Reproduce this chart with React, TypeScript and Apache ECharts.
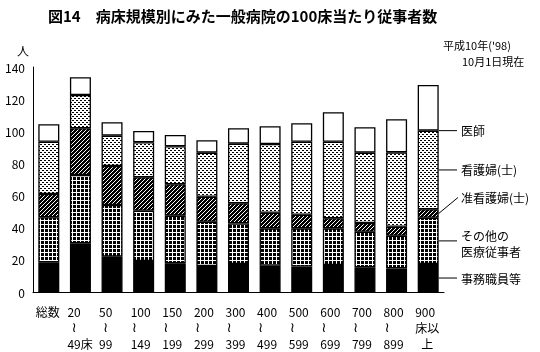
import React, { useEffect, useRef } from "react";
import * as echarts from "echarts";

const categories = ["総数", "20～49床", "50～99", "100～149", "150～199", "200～299", "300～399", "400～499", "500～599", "600～699", "700～799", "800～899", "900床以上"];
const tickLabels = ["総数", "20\n≀\n49床", "50\n≀\n99", "100\n≀\n149", "150\n≀\n199", "200\n≀\n299", "300\n≀\n399", "400\n≀\n499", "500\n≀\n599", "600\n≀\n699", "700\n≀\n799", "800\n≀\n899", "900\n床以\n上"];
const seriesNames = ["事務職員等", "その他の医療従事者", "准看護婦(士)", "看護婦(士)", "医師"];
const clerical = [18.5, 30.3, 22.0, 19.3, 17.9, 16.2, 17.4, 16.4, 15.8, 16.8, 15.4, 14.7, 17.4];
const otherMedical = [28.0, 42.5, 32.1, 31.3, 29.6, 27.5, 25.3, 23.2, 23.8, 22.8, 22.1, 20.3, 28.8];
const assistNurse = [14.5, 29.1, 24.3, 20.8, 19.5, 15.6, 12.5, 9.7, 8.5, 6.3, 5.4, 5.6, 5.3];
const nurse = [32.5, 20.7, 18.9, 21.8, 23.7, 27.4, 37.1, 42.8, 45.4, 47.6, 43.8, 46.3, 48.9];
const doctor = [10.9, 11.0, 8.3, 7.0, 7.0, 7.7, 9.6, 11.0, 11.5, 18.3, 15.8, 20.6, 28.4];
const yMin = 0;
const yMax = 140;
const yInterval = 20;

const FONT = "'Noto Sans CJK JP', 'DejaVu Sans', sans-serif";

function makeTile(size: number, draw: (ctx: CanvasRenderingContext2D) => void) {
  const c = document.createElement("canvas");
  c.width = size;
  c.height = size;
  const ctx = c.getContext("2d")!;
  draw(ctx);
  return c;
}

export default function App() {
  const ref = useRef<HTMLDivElement>(null);
  useEffect(() => {
    const el = ref.current!;
    const chart = echarts.init(el, undefined, { renderer: "svg" });

    const gridTile = makeTile(4, (ctx) => {
      ctx.fillStyle = "#000";
      ctx.fillRect(0, 0, 4, 4);
      ctx.fillStyle = "#fff";
      ctx.fillRect(0, 0, 4, 1);
      ctx.fillRect(0, 0, 1, 4);
    });
    const hatchTile = makeTile(4, (ctx) => {
      ctx.fillStyle = "#000";
      ctx.fillRect(0, 0, 4, 4);
      ctx.fillStyle = "#fff";
      ctx.fillRect(3, 0, 1, 1);
      ctx.fillRect(2, 1, 1, 1);
      ctx.fillRect(1, 2, 1, 1);
      ctx.fillRect(0, 3, 1, 1);
    });
    const dotTile = makeTile(4, (ctx) => {
      ctx.fillStyle = "#fff";
      ctx.fillRect(0, 0, 4, 4);
      ctx.fillStyle = "#000";
      ctx.fillRect(0, 0, 2, 1);
      ctx.fillRect(2, 2, 2, 1);
    });

    const fills: any[] = [
      "#000",
      { image: gridTile, repeat: "repeat" },
      { image: hatchTile, repeat: "repeat" },
      { image: dotTile, repeat: "repeat" },
      "#fff",
    ];
    const values = [clerical, otherMedical, assistNurse, nurse, doctor];

    const series = values.map((v, i) => ({
      name: seriesNames[i],
      type: "bar",
      stack: "total",
      barWidth: 21,
      data: v,
      itemStyle: { color: fills[i], borderColor: "#000", borderWidth: 1.3 },
      emphasis: { disabled: true },
    }));

    const base = { align: "left", lineHeight: 16, fontSize: 12, color: "#000", fontFamily: FONT };
    const rich: any = {
      a: { ...base, width: 26 },
      b: { ...base, width: 20 },
      s4: { ...base, width: 4 },
      s1: { ...base, width: 1 },
      s6: { ...base, width: 6 },
      t: { ...base, fontSize: 14, fontFamily: "'DejaVu Sans', sans-serif" },
    };

    chart.setOption({
      animation: false,
      textStyle: { fontFamily: FONT, color: "#000" },
      grid: { left: 33, right: 96, top: 67, bottom: 60, containLabel: false },
      xAxis: {
        type: "category",
        data: categories,
        axisLine: { lineStyle: { color: "#000", width: 1 } },
        axisTick: { show: false },
        axisLabel: {
          interval: 0,
          margin: 11,
          lineHeight: 16,
          formatter: (_v: string, idx: number) => {
            const lines = tickLabels[idx].split("\n");
            return lines
              .map((ln, i) => {
                if (ln === "≀") return `{${lines[0].length >= 3 ? "s1" : "s4"}| }{t|≀}`;
                if (i === 2 && ln.length === 1) return `{s6| }{b|${ln}}`;
                return `{a|${ln}}`;
              })
              .join("\n");
          },
          rich,
        },
      },
      yAxis: {
        type: "value",
        min: yMin,
        max: yMax,
        interval: yInterval,
        axisLine: { show: true, lineStyle: { color: "#000", width: 1 } },
        axisTick: { show: false },
        splitLine: { show: false },
        axisLabel: { fontSize: 12, color: "#000", margin: 8, fontFamily: FONT },
      },
      series,
    });

    const last = categories.length - 1;
    const cx = chart.convertToPixel({ xAxisIndex: 0 }, categories[last]) as number;
    const xr = cx + 10.5;
    const bounds: number[][] = [];
    let acc = 0;
    values.forEach((v) => {
      bounds.push([acc, acc + v[last]]);
      acc += v[last];
    });
    const yOf = (v: number) => chart.convertToPixel({ yAxisIndex: 0 }, v) as number;
    const mid = (k: number) => yOf((bounds[k][0] + bounds[k][1]) / 2);
    const lineEnd = 457;
    const textX = 461;
    const ls = { stroke: "#000", lineWidth: 1 };
    const ts = (text: string, x: number, y: number, extra: any = {}) => ({
      type: "text",
      x,
      y,
      style: { text, fill: "#000", font: `12px ${FONT}`, verticalAlign: "middle", align: "left", ...extra },
    });

    const yDoc = yOf(bounds[3][1]);
    const yNurse = mid(3);
    const yAsst = mid(2);
    const yOther = mid(1);
    const yCler = mid(0);

    chart.setOption({
      graphic: [
        { type: "text", x: 48, y: 15, style: { text: "図14　病床規模別にみた一般病院の100床当たり従事者数", fill: "#000", font: `bold 15px ${FONT}`, verticalAlign: "middle" } },
        ts("人", 17, 50),
        ts("平成10年('98)", 443, 45, { font: `11px ${FONT}` }),
        ts("10月1日現在", 462, 61, { font: `11px ${FONT}` }),
        { type: "line", shape: { x1: xr, y1: yDoc, x2: lineEnd, y2: yDoc }, style: ls },
        ts("医師", textX, yDoc),
        { type: "line", shape: { x1: xr, y1: yNurse, x2: lineEnd, y2: yNurse }, style: ls },
        ts("看護婦(士)", textX, yNurse),
        { type: "line", shape: { x1: xr, y1: yAsst, x2: lineEnd + 1, y2: yAsst - 16 }, style: ls },
        ts("准看護婦(士)", textX, yAsst - 16),
        { type: "line", shape: { x1: xr, y1: yOther, x2: lineEnd, y2: yOther }, style: ls },
        ts("その他の\n医療従事者", textX, yOther + 3, { lineHeight: 16 }),
        { type: "line", shape: { x1: xr, y1: yCler, x2: lineEnd, y2: yCler }, style: ls },
        ts("事務職員等", textX, yCler),
      ],
    });

    return () => chart.dispose();
  }, []);
  return <div ref={ref} style={{ position: "fixed", left: 0, top: 0, width: 540, height: 352 }} />;
}
